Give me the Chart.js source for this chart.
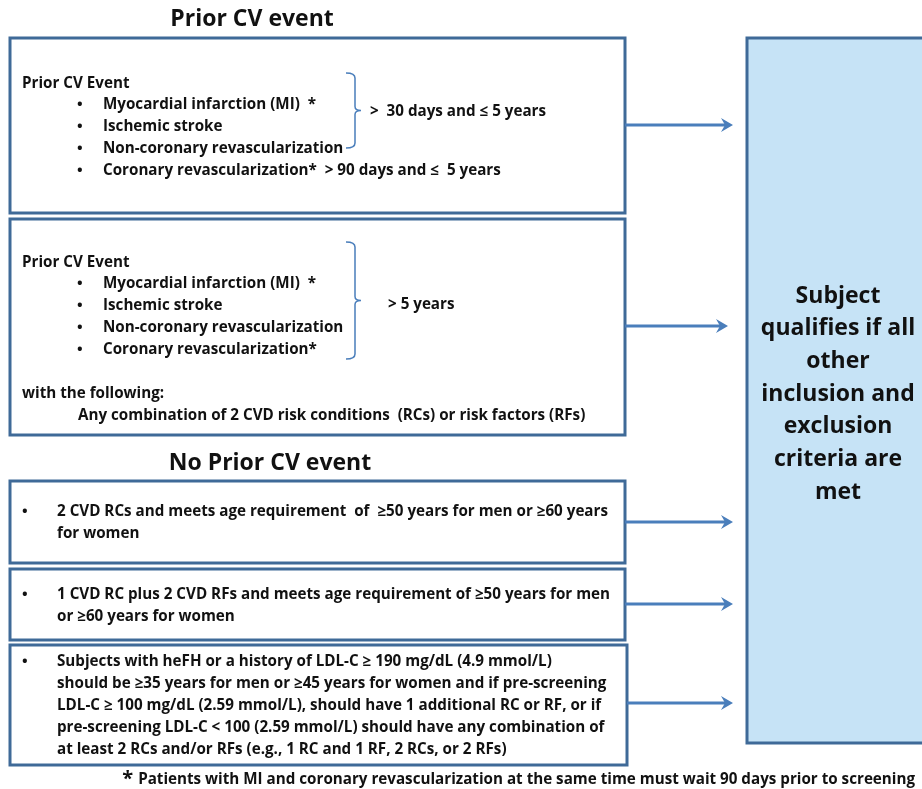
<!DOCTYPE html>
<html>
<head>
<meta charset="utf-8">
<script src="https://cdn.jsdelivr.net/npm/chart.js@4/dist/chart.umd.min.js"></script>
<style>
  html, body { margin: 0; padding: 0; background: #fff; }
  canvas { display: block; }
</style>
</head>
<body>
<canvas id="flow" width="922" height="789"></canvas>
<script>
// diagram content
const sectionTitles = ['Prior CV event', 'No Prior CV event'];
const eventHeader = 'Prior CV Event';
const eventTypes = ['Myocardial infarction (MI)  *', 'Ischemic stroke', 'Non-coronary revascularization', 'Coronary revascularization*'];
const recentWindow = '>  30 days and \u2264 5 years';
const coronaryWindow = '> 90 days and \u2264  5 years';
const olderWindow = '> 5 years';
const withFollowing = ['with the following:', 'Any combination of 2 CVD risk conditions  (RCs) or risk factors (RFs)'];
const noPriorCriteria = [
  ['2 CVD RCs and meets age requirement  of  \u226550 years for men or \u226560 years', 'for women'],
  ['1 CVD RC plus 2 CVD RFs and meets age requirement of \u226550 years for men', 'or \u226560 years for women'],
  ['Subjects with heFH or a history of LDL-C \u2265 190 mg/dL (4.9 mmol/L)',
   'should be \u226535 years for men or \u226545 years for women and if pre-screening',
   'LDL-C \u2265 100 mg/dL (2.59 mmol/L), should have 1 additional RC or RF, or if',
   'pre-screening LDL-C < 100 (2.59 mmol/L) should have any combination of',
   'at least 2 RCs and/or RFs (e.g., 1 RC and 1 RF, 2 RCs, or 2 RFs)']
];
const outcomeLines = ['Subject', 'qualifies if all', 'other', 'inclusion and', 'exclusion', 'criteria are', 'met'];
const footnote = 'Patients with MI and coronary revascularization at the same time must wait 90 days prior to screening';

// layout (diagram units = pixels of the 922x789 sheet)
const criteriaBoxes = [[10, 38, 625, 213], [10, 219, 625, 435], [10, 481, 625, 563], [10, 569, 625, 640], [10, 645, 627, 765]];
const arrowRows = [125, 326, 522, 604, 703];
const arrowTips = [733, 728, 733, 733, 733];
const outcomeBox = [747, 38, 940, 743];

const BORDER = '#3F6A98';
const ARROW = '#4A7EBB';
const FILL = '#C6E3F6';
const INK = '#111';
const FAMILY = '"Open Sans", Lato, sans-serif';
const BODY = 'bold 15.2px ' + FAMILY;
const TITLE = 'bold 23px ' + FAMILY;

const flowPlugin = {
  id: 'flow',
  afterDraw(chart) {
    const { ctx, scales } = chart;
    const px = v => scales.x.getPixelForValue(v);
    const py = v => scales.y.getPixelForValue(v);

    const text = (s, x, y, font, align) => {
      ctx.font = font || BODY;
      ctx.fillStyle = INK;
      ctx.textAlign = align || 'left';
      ctx.textBaseline = 'middle';
      ctx.fillText(s, px(x), py(y) + 1);
    };
    const box = (b, fill) => {
      const x = px(b[0]), y = py(b[1]);
      const w = px(b[2]) - x, h = py(b[3]) - y;
      if (fill) { ctx.fillStyle = fill; ctx.fillRect(x, y, w, h); }
      ctx.strokeStyle = BORDER;
      ctx.lineWidth = 3;
      ctx.strokeRect(x, y, w, h);
    };
    const arrow = (x0, x1, y) => {
      ctx.strokeStyle = ARROW;
      ctx.fillStyle = ARROW;
      ctx.lineWidth = 3;
      ctx.beginPath();
      ctx.moveTo(px(x0), py(y));
      ctx.lineTo(px(x1) - 6, py(y));
      ctx.stroke();
      ctx.beginPath();
      ctx.moveTo(px(x1), py(y));
      ctx.lineTo(px(x1) - 12, py(y) - 7);
      ctx.lineTo(px(x1) - 8, py(y));
      ctx.lineTo(px(x1) - 12, py(y) + 7);
      ctx.closePath();
      ctx.fill();
    };
    const bracket = (x, top, bottom) => {
      const mid = (top + bottom) / 2;
      ctx.strokeStyle = ARROW;
      ctx.lineWidth = 1.5;
      ctx.beginPath();
      ctx.moveTo(px(x - 9), py(top));
      ctx.quadraticCurveTo(px(x), py(top), px(x), py(top + 5));
      ctx.lineTo(px(x), py(mid - 4));
      ctx.quadraticCurveTo(px(x), py(mid), px(x + 6), py(mid));
      ctx.quadraticCurveTo(px(x), py(mid), px(x), py(mid + 4));
      ctx.lineTo(px(x), py(bottom - 5));
      ctx.quadraticCurveTo(px(x), py(bottom), px(x - 9), py(bottom));
      ctx.stroke();
    };
    const bullet = (x, y) => text('\u2022', x, y, 'bold 15px ' + FAMILY, 'left');

    ctx.save();
    // outcome box
    box(outcomeBox, FILL);
    outcomeLines.forEach((s, i) => text(s, 838, 295 + i * 32.7, TITLE, 'center'));

    // section titles
    text(sectionTitles[0], 252, 18, TITLE, 'center');
    text(sectionTitles[1], 270, 462, TITLE, 'center');

    criteriaBoxes.forEach(b => box(b));
    arrowRows.forEach((y, i) => arrow(criteriaBoxes[i][2], arrowTips[i], y));

    // box 1: recent prior event
    text(eventHeader, 22, 83);
    eventTypes.forEach((s, i) => {
      const y = 104 + i * 22;
      bullet(77, y);
      text(i === 3 ? s + '  ' + coronaryWindow : s, 103, y);
    });
    bracket(355, 73, 148);
    text(recentWindow, 370, 111);

    // box 2: older prior event
    text(eventHeader, 22, 262);
    eventTypes.forEach((s, i) => {
      const y = 283 + i * 22;
      bullet(77, y);
      text(s, 103, y);
    });
    bracket(355, 242, 359);
    text(olderWindow, 388, 304);
    text(withFollowing[0], 22, 393);
    text(withFollowing[1], 78, 415);

    // no prior event boxes
    const starts = [511, 594, 661];
    noPriorCriteria.forEach((lines, k) => {
      bullet(22, starts[k]);
      lines.forEach((s, i) => text(s, 57, starts[k] + i * 22));
    });

    // footnote
    ctx.font = BODY;
    const w = ctx.measureText(footnote).width;
    text(footnote, 915 - w, 779);
    text('*', 915 - w - 5, 778, 'bold 20px ' + FAMILY, 'right');
    ctx.restore();
  }
};

new Chart(document.getElementById('flow'), {
  type: 'scatter',
  data: { datasets: [{ data: [], pointRadius: 0 }] },
  options: {
    responsive: false,
    animation: false,
    layout: { padding: 0 },
    plugins: { legend: { display: false }, tooltip: { enabled: false } },
    scales: {
      x: { type: 'linear', min: 0, max: 922, display: false },
      y: { type: 'linear', min: 0, max: 789, reverse: true, display: false }
    }
  },
  plugins: [flowPlugin]
});
</script>
</body>
</html>
